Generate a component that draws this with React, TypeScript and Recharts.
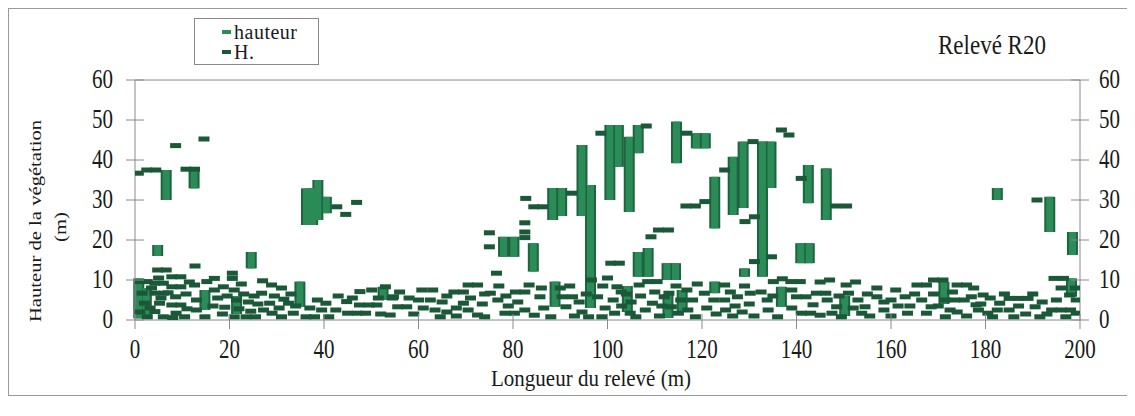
import React from 'react';
import { ComposedChart, Scatter, XAxis, YAxis, ErrorBar, ReferenceLine } from 'recharts';

const xTicks = [0, 20, 40, 60, 80, 100, 120, 140, 160, 180, 200];
const yTicks = [0, 10, 20, 30, 40, 50, 60];
const seriesNames = ['hauteur', 'H.'];
const chartTitle = 'Relevé R20';
const xLabel = 'Longueur du relevé (m)';
const yLabel1 = 'Hauteur de la végétation';
const yLabel2 = '(m)';

// hauteur: [x (m), bas (m), haut (m)]
const hauteurBars: number[][] = [
  [0.8, 0.4, 10.4], [2.4, 1, 8], [4.8, 16, 18.75], [6.6, 30, 37.5], [12.5, 32.9, 37.5],
  [14.8, 2.5, 7.5], [24.6, 12.9, 17], [34.9, 3.3, 9.6], [36.3, 23.75, 32.9], [37.6, 23.75, 32.9],
  [38.7, 25, 35], [40.5, 26.7, 30.8], [52.5, 5, 8.3], [78, 15.8, 20.8], [80.2, 15.8, 20.8],
  [84.3, 12.1, 19.2], [88.4, 25, 33], [90.3, 26, 33], [88.9, 3.3, 9.6], [94.6, 26, 43.75],
  [96.4, 3, 33.75], [100.5, 30, 48.75], [102.3, 38.3, 48.75], [104.6, 27, 45.8], [106.5, 41.7, 48.75],
  [106.5, 10.8, 17], [108.6, 10.8, 18], [112.6, 10, 14.2], [114.4, 10, 14.2], [114.6, 39.2, 49.6],
  [118.8, 42.9, 46.7], [120.7, 42.9, 46.7], [122.7, 22.9, 35.8], [122.7, 6.7, 9.6], [126.6, 26.25, 40.8],
  [128.7, 28, 44.6], [129, 10.8, 12.9], [132.8, 10.8, 44.6], [134.6, 33, 44.6], [136.8, 3.3, 8.3],
  [140.9, 14.2, 19.2], [142.7, 14.2, 19.2], [142.5, 29.2, 38.75], [146.3, 25, 37.9], [182.5, 30, 33],
  [193.6, 22, 30.8], [198.4, 16.25, 22], [198.2, 5.8, 10.4], [21.5, 1.5, 6], [104.2, 2, 8.5],
  [115.8, 2, 7.5], [150.2, 1, 6], [171.2, 4, 9.5], [112.8, 0.5, 6.5],
];

// H.: [x (m), hauteur (m)]
const hDashes: number[][] = [
  [0.7, 36.7], [2.5, 37.5], [4.4, 37.5], [8.6, 43.6], [10.8, 37.7], [12.6, 37.7], [14.6, 45.25],
  [4.8, 12.5], [6.6, 12.5], [12.7, 13.5], [20.6, 11.7],
  [42.7, 28.3], [44.6, 26.4], [46.9, 29.4],
  [75, 21.8], [75, 18.3], [76.5, 11.7], [82.5, 24.3], [82.5, 22], [82.5, 20.6], [82.7, 30.4], [84.4, 28.3],
  [86.3, 28.3], [92.4, 31.7],
  [98.6, 46.7], [108.2, 48.5], [100.7, 14.2], [102.5, 14.2], [109.2, 20.8], [110.8, 22.5], [112.9, 22.5],
  [116.8, 46.7], [136.8, 47.5], [138.4, 46.25], [130.8, 44.6], [124.8, 37.5], [131.1, 25.8], [129.1, 24.6],
  [134.7, 15.8], [131.1, 14.6], [120.6, 29.6], [116.6, 28.5], [118.6, 28.5], [141, 35.4], [148.4, 28.5],
  [150.6, 28.5], [190.9, 30], [194.5, 10.4], [196.5, 10.4],
  [1, 9.6], [2.6, 9.6], [1.5, 6.7], [2, 4.2], [1, 2], [2.6, 0.8],
  [4.2, 9.2], [6, 9.2], [4.2, 6.7], [6, 6.7], [5.2, 4.2], [4.2, 2.1], [6, 0.8],
  [7.8, 10.8], [9.7, 10.8], [7.8, 8.3], [9.7, 8.3], [8.6, 5.8], [7.8, 3.75], [9.7, 3.75], [8.7, 1.7], [10.5, 0.8],
  [12.6, 8.75], [14.8, 0.8], [15.2, 9.6], [16.8, 10.4], [18.7, 8.3], [17.5, 5.5], [20.6, 10.4],
  [21, 7.5], [23, 6.5], [21.5, 5], [24, 4.5], [22, 2.8], [24.5, 2.2], [21, 0.8], [23.5, 0.8], [25.2, 6],
  [26.8, 6.7], [28.9, 8.75], [28.5, 4.2], [30.5, 3], [32.5, 4.2], [29, 1.7], [31, 0.8], [33.5, 1.7], [27.2, 2.5],
  [36.2, 0.8], [38.6, 5], [40.4, 4.2], [39.5, 2.5], [41, 0.8],
  [44.8, 4.6], [45, 1.7], [47, 1.7], [48.8, 1.7], [47.6, 7.1], [50.1, 7.5], [53, 8.3], [47.5, 3.75],
  [49.6, 3.75], [51.2, 3.75], [54.7, 5.8],
  [54.5, 5.5], [55.6, 3.3], [57.5, 3.3], [54, 1.25], [60, 5], [60.7, 7.5], [62.5, 5], [64.6, 0.8], [66, 6],
  [66, 2], [67.5, 7], [69.5, 7], [69.5, 4.2], [72.5, 1.25], [70.5, 8.75], [72.5, 8.75], [75.2, 6.7], [76.8, 5],
  [78.3, 1.7], [80.3, 1.7], [80.5, 7], [82.5, 7], [83.4, 8.75], [85.7, 5.8], [90.4, 5.8], [92.6, 5.8],
  [91.2, 3.3], [94.6, 2], [96.6, 10], [97.9, 5.8], [98.8, 0.8], [101.2, 5], [102, 8.3], [104, 6.5], [103, 3.5],
  [101.5, 1.7], [104.8, 1.7], [102.9, 7], [106.7, 8.75], [108.5, 9.6], [110.5, 9.6], [109.5, 4.2], [113, 6.7],
  [113.5, 3.3],
  [112, 5.8], [115, 1.7], [117, 2.5], [118.6, 0.8], [116.8, 7.5], [120.5, 6.7], [122.5, 5], [124.8, 8.75],
  [124.8, 5], [125, 2.5], [126.5, 1], [127.5, 5.8], [128.5, 2], [130.2, 6.7], [132.5, 7], [133.8, 5], [134, 2.5],
  [135.1, 9.6], [138.8, 9.6], [140.8, 9.6], [140, 5.8], [142, 5.8], [141, 1.7], [143, 1.7], [144.2, 6.7],
  [146.2, 6.7], [147, 10], [146.5, 5], [148.5, 3.3], [147.5, 1.7], [150.5, 8.75], [151, 6.7], [153, 5],
  [154.5, 3.3], [153.8, 1.7], [157, 5.8], [158.5, 2.5], [160, 5], [161.5, 3.5],
  [163, 5.8], [163.5, 1.7], [165.5, 8.75], [167.5, 8.75], [169, 10], [171, 10], [174, 8.75], [176, 8.75],
  [166.5, 5], [168.5, 3.3], [167.5, 1.7], [171.5, 5], [173.5, 5], [175.5, 5], [172.5, 2.5], [177, 5.8], [179, 4],
  [180.5, 1.7], [178.5, 2.5], [179.5, 6.25], [183, 4.2], [185, 2.5], [185, 5.4], [187, 5.4], [189, 5.4],
  [190.5, 3.3], [191.5, 0.8], [194, 2.5], [196, 2.5], [198, 2.5], [199.2, 5], [199.2, 1.7], [197.8, 6.25],
  [3.5, 8], [5.5, 5.5], [3.2, 3], [7, 6.8], [10.8, 6.5], [11, 2.8], [8, 0.6], [11.5, 9.5], [5, 10.5],
  [13, 5], [13, 2.5], [16.8, 7.5], [16.5, 3.5], [18.5, 1.5], [19.5, 6], [19, 3.2], [22.5, 9], [26, 4],
  [25.5, 0.8], [27, 9.8], [29.5, 6], [31, 8], [31.5, 5.2], [33, 6.5], [34, 3.5],
  [37, 3], [38, 0.8], [42.5, 2.5], [43, 6], [46, 5.5],
  [51.5, 5.5], [52, 1.5], [56, 7], [58, 5.5], [59, 1.5], [61, 3], [63, 7.5], [63.5, 2.5], [65, 4.5], [68, 3],
  [68, 1], [71, 5.5], [73.5, 4], [74, 6.5], [70.5, 2.5], [74, 0.8],
  [77, 8.5], [78.5, 6], [79, 3.5], [81, 4.5], [82.5, 2.5], [84.5, 1.2], [86, 8], [86.5, 3], [88, 0.8], [90, 8],
  [92, 8.5], [93, 1], [94, 4.5], [95.5, 6.5], [96, 0.8], [99, 8.5], [99.5, 3], [100, 10.5], [105, 4.5], [106, 0.8],
  [107, 6], [108, 2.5], [110, 7], [111, 1], [111.5, 3.5], [114.5, 8.5], [115.5, 5],
  [118, 5], [119, 9], [121, 3], [123, 1.5], [126, 7], [127, 3.5], [129, 8.5], [130, 4], [131, 1], [135, 6],
  [136, 0.8], [137, 10.3], [139, 7.5], [139, 3], [143.5, 3.8], [145, 9.5], [145, 1.2], [149, 6], [149.5, 0.8],
  [152, 3], [152.5, 9.5], [155, 6.5], [155.5, 1], [157, 8], [158.5, 4.5], [160, 1], [161, 7.5],
  [164, 3.5], [165, 6.5], [169, 6.5], [170, 3.5], [171.5, 0.8], [173, 7], [174, 2], [176, 1], [177.5, 8],
  [178, 3.8], [181, 5.5], [181.5, 0.8], [182.5, 2.5],
  [184, 6.5], [186, 0.8], [187, 3.5], [188.5, 1.5], [190, 6.5], [192, 4.5], [193, 1.5], [195, 5], [196, 8],
  [197, 0.8], [199, 8],
];

const barData = hauteurBars.map(([x, lo, hi]) => ({ x, y: lo, err: [0, hi - lo] }));
const dashData = hDashes.map(([x, y]) => ({ x, y }));

const LIGHT = '#2c8c57';
const EDGE = '#1d643f';
const DARK = '#1a5838';
const AXIS = '#8a8a8a';
const TEXT = '#1a1a1a';
const FONT = '"Liberation Serif", "Times New Roman", serif';

const XTick = (props: any) => {
  const { x, y, payload } = props;
  return (
    <g>
      <line x1={x} x2={x} y1={y - 6} y2={y + 9} stroke={AXIS} />
      <text transform={`translate(${x},${y + 38}) scale(1,1.25)`} textAnchor="middle" fontFamily={FONT} fontSize={21} fill={TEXT}>
        {payload.value}
      </text>
    </g>
  );
};

const YTickLeft = (props: any) => {
  const { x, y, payload } = props;
  return (
    <g>
      <line x1={x - 9} x2={x + 9} y1={y} y2={y} stroke={AXIS} />
      <text transform={`translate(${x - 22},${y + 8}) scale(1,1.25)`} textAnchor="end" fontFamily={FONT} fontSize={21} fill={TEXT}>
        {payload.value}
      </text>
    </g>
  );
};

const YTickRight = (props: any) => {
  const { x, y, payload } = props;
  return (
    <g>
      <line x1={x - 9} x2={x + 9} y1={y} y2={y} stroke={AXIS} />
      <text transform={`translate(${x + 19},${y + 8}) scale(1,1.25)`} textAnchor="start" fontFamily={FONT} fontSize={21} fill={TEXT}>
        {payload.value}
      </text>
    </g>
  );
};

const DashShape = (props: any) => {
  const { cx, cy } = props;
  if (cx == null || cy == null) return <g />;
  return <rect x={cx - 5.5} y={cy - 2.5} width={11} height={5} fill={DARK} />;
};

const legendColors = [LIGHT, DARK];

export default function App() {
  return (
    <div style={{ position: 'relative', width: 1120, height: 388, fontFamily: FONT }}>
      <ComposedChart width={1120} height={388} margin={{ top: 72, right: 8, bottom: 36, left: 67 }}>
        <XAxis
          type="number"
          dataKey="x"
          domain={[0, 200]}
          ticks={xTicks}
          interval={0}
          tickSize={0}
          tickMargin={0}
          tickLine={false}
          tick={<XTick />}
          axisLine={{ stroke: AXIS }}
          height={40}
          allowDataOverflow
        />
        <YAxis
          yAxisId="left"
          type="number"
          dataKey="y"
          domain={[0, 60]}
          ticks={yTicks}
          interval={0}
          tickSize={0}
          tickMargin={0}
          tickLine={false}
          tick={<YTickLeft />}
          axisLine={{ stroke: AXIS }}
          width={60}
          allowDataOverflow
        />
        <YAxis
          yAxisId="right"
          orientation="right"
          type="number"
          domain={[0, 60]}
          ticks={yTicks}
          interval={0}
          tickSize={0}
          tickMargin={0}
          tickLine={false}
          tick={<YTickRight />}
          axisLine={{ stroke: AXIS }}
          width={40}
          allowDataOverflow
        />
        <ReferenceLine yAxisId="left" y={60} stroke={AXIS} />
        <Scatter
          name={seriesNames[0]}
          yAxisId="left"
          data={barData}
          fill={LIGHT}
          shape={() => <g />}
          isAnimationActive={false}
        >
          <ErrorBar dataKey="err" direction="y" width={0} strokeWidth={11} stroke={EDGE} isAnimationActive={false} />
          <ErrorBar dataKey="err" direction="y" width={0} strokeWidth={7} stroke={LIGHT} isAnimationActive={false} />
        </Scatter>
        <Scatter
          name={seriesNames[1]}
          yAxisId="left"
          data={dashData}
          fill={DARK}
          shape={<DashShape />}
          isAnimationActive={false}
        />
      </ComposedChart>

      {/* outer frame */}
      <div style={{ position: 'absolute', left: 0, top: 0, width: 1120, height: 388, boxSizing: 'border-box', border: '1px solid #9a9a9a', pointerEvents: 'none' }} />

      {/* legend */}
      <div style={{ position: 'absolute', left: 186, top: 10, width: 125, height: 47, boxSizing: 'border-box', border: '1px solid #8a8a8a', background: '#fff' }}>
        {seriesNames.map((n, i) => (
          <div key={n} style={{ position: 'absolute', left: 27, top: 3 + i * 20, height: 20, display: 'flex', alignItems: 'center', fontSize: 20, color: TEXT, lineHeight: '20px', letterSpacing: 0.5 }}>
            <span style={{ display: 'inline-block', width: 9, height: 4, background: legendColors[i], marginRight: 3 }} />
            <span>{n}</span>
          </div>
        ))}
      </div>

      {/* title */}
      <div style={{ position: 'absolute', left: 930, top: 23, fontSize: 23, color: TEXT, whiteSpace: 'nowrap', transform: 'scale(1,1.15)', transformOrigin: 'left top' }}>
        {chartTitle}
      </div>

      {/* y label */}
      <div style={{ position: 'absolute', left: 28, top: 213, width: 0, height: 0 }}>
        <div style={{ position: 'absolute', left: 0, top: 0, transform: 'translate(-50%,-50%) rotate(-90deg) scale(1.25,1)', fontSize: 16.5, whiteSpace: 'nowrap', color: TEXT }}>
          {yLabel1}
        </div>
      </div>
      <div style={{ position: 'absolute', left: 53, top: 219, width: 0, height: 0 }}>
        <div style={{ position: 'absolute', left: 0, top: 0, transform: 'translate(-50%,-50%) rotate(-90deg) scale(1.25,1)', fontSize: 16.5, whiteSpace: 'nowrap', color: TEXT }}>
          {yLabel2}
        </div>
      </div>

      {/* x label */}
      <div style={{ position: 'absolute', left: 583, top: 371, width: 0, height: 0 }}>
        <div style={{ position: 'absolute', left: 0, top: 0, transform: 'translate(-50%,-50%) scale(1,1.1)', fontSize: 21, whiteSpace: 'nowrap', color: TEXT }}>
          {xLabel}
        </div>
      </div>
    </div>
  );
}
